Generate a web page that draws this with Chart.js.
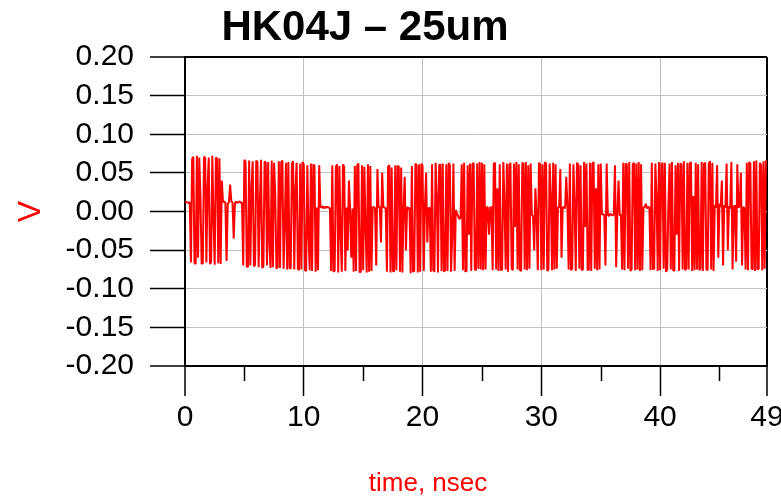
<!DOCTYPE html>
<html>
<head>
<meta charset="utf-8">
<script src="https://cdn.jsdelivr.net/npm/chart.js@4.4.0/dist/chart.umd.min.js"></script>
<style>
  html, body { margin: 0; padding: 0; background: #ffffff; }
  #wrap { width: 781px; height: 496px; }
</style>
</head>
<body>
<div id="wrap"><canvas id="c" width="781" height="496"></canvas></div>
<script>
// ---- data ----
const chartTitle = "HK04J \u2013 25um";
const xTitle = "time, nsec";
const yTitle = "V";
const xTickValues = [0, 10, 20, 30, 40, 49];
const xMinorTickValues = [5, 15, 25, 35, 45];
const yMin = -0.20, yMax = 0.20, yStep = 0.05;
const sampleStep = 0.1; // ns between samples
// voltage samples, one row per nanosecond (10 samples each)
const voltage = [
  0.012, 0.012, 0.012, 0.011, 0.012, -0.066, 0.068, 0.071, -0.067, -0.068,
  0.072, -0.060, 0.070, 0.020, -0.068, -0.067, 0.071, 0.069, -0.066, 0.030,
  0.070, -0.068, -0.065, 0.072, -0.010, -0.069, 0.070, 0.068, -0.067, 0.069,
  -0.068, 0.040, 0.012, 0.013, 0.011, -0.064, 0.010, 0.012, 0.035, 0.013,
  0.012, -0.035, 0.010, 0.013, 0.011, 0.012, 0.013, 0.011, 0.012, -0.070,
  0.067, 0.064, -0.071, -0.072, 0.066, -0.070, 0.030, 0.065, -0.071, -0.069,
  0.066, 0.064, -0.072, 0.010, 0.067, -0.073, -0.071, 0.065, 0.063, -0.070,
  0.064, -0.040, -0.073, 0.066, -0.072, 0.063, 0.020, -0.074, -0.072, 0.065,
  -0.073, 0.064, 0.066, -0.074, -0.020, 0.063, -0.075, 0.064, -0.073, -0.074,
  0.062, 0.065, -0.075, 0.030, 0.063, -0.074, -0.076, 0.062, -0.075, 0.064,
  0.061, -0.076, -0.077, 0.060, -0.030, -0.076, 0.062, -0.077, 0.061, 0.059,
  -0.078, 0.005, -0.076, 0.060, 0.006, 0.005, 0.007, 0.004, 0.006, 0.005,
  0.006, 0.005, 0.004, -0.077, 0.060, -0.078, -0.077, 0.058, 0.061, -0.079,
  0.059, -0.030, -0.078, 0.061, 0.058, -0.077, 0.005, -0.050, 0.040, 0.003,
  -0.060, 0.004, -0.078, 0.059, -0.077, 0.060, 0.062, -0.079, -0.078, 0.060,
  -0.076, 0.058, -0.020, -0.079, 0.061, -0.078, 0.059, -0.077, 0.005, 0.006,
  0.004, -0.070, 0.055, 0.005, 0.006, -0.040, 0.050, 0.006, 0.005, 0.004,
  -0.078, 0.058, 0.060, -0.079, 0.057, -0.077, -0.078, 0.060, -0.076, 0.059,
  0.058, -0.078, 0.057, -0.079, 0.004, 0.045, -0.050, 0.006, 0.003, 0.005,
  -0.080, 0.059, -0.078, -0.077, 0.062, 0.060, -0.079, 0.061, -0.078, 0.062,
  0.059, -0.077, 0.006, 0.050, -0.040, 0.004, 0.005, -0.078, 0.061, -0.076,
  -0.078, 0.063, 0.020, -0.079, 0.060, 0.061, -0.077, 0.062, -0.078, -0.076,
  0.061, -0.077, 0.063, 0.060, -0.078, -0.030, 0.062, -0.077, 0.002, -0.003,
  -0.006, -0.010, -0.008, 0.061, -0.076, 0.063, -0.078, -0.077, 0.060, -0.030,
  0.062, -0.077, 0.061, 0.063, -0.075, -0.076, 0.062, -0.074, 0.064, -0.075,
  0.063, -0.076, 0.061, -0.075, 0.006, 0.005, -0.030, 0.005, 0.006, -0.076,
  0.062, 0.063, -0.075, 0.030, -0.077, 0.061, -0.076, -0.075, 0.064, 0.010,
  -0.075, 0.062, -0.078, 0.060, 0.063, -0.074, -0.076, 0.062, -0.020, 0.064,
  -0.075, 0.061, -0.076, -0.077, 0.063, 0.062, -0.075, 0.064, -0.076, 0.060,
  -0.074, 0.062, -0.004, -0.006, -0.050, 0.030, -0.004, -0.076, 0.063, 0.061,
  -0.076, 0.061, -0.075, 0.064, 0.062, -0.077, -0.075, 0.062, 0.020, -0.076,
  0.063, -0.075, 0.061, -0.074, 0.005, 0.006, 0.055, -0.060, 0.005, 0.006,
  0.004, 0.045, 0.006, -0.075, 0.062, -0.076, -0.074, 0.061, 0.010, -0.077,
  0.063, 0.061, -0.074, 0.060, -0.076, -0.075, 0.064, -0.020, 0.062, -0.076,
  -0.075, 0.063, -0.077, 0.062, 0.064, -0.074, 0.030, -0.076, 0.061, -0.075,
  0.062, -0.004, -0.003, -0.005, -0.070, 0.062, -0.004, -0.006, -0.003, -0.004,
  -0.005, -0.004, 0.060, -0.072, -0.004, 0.040, -0.005, -0.004, -0.075, 0.063,
  -0.076, 0.062, 0.061, -0.074, 0.064, -0.077, -0.075, 0.061, 0.063, -0.076,
  0.062, -0.075, 0.064, -0.077, 0.061, -0.076, 0.005, 0.006, 0.010, 0.004,
  0.006, 0.005, -0.076, 0.063, -0.075, -0.074, 0.062, 0.020, -0.077, 0.064,
  -0.076, 0.061, 0.063, -0.074, 0.063, -0.078, -0.075, 0.010, 0.062, -0.075,
  0.064, -0.076, -0.077, 0.060, -0.030, 0.063, -0.077, 0.062, 0.061, -0.075,
  0.065, -0.076, -0.074, 0.063, -0.075, 0.062, 0.064, -0.077, 0.020, -0.076,
  0.063, -0.075, 0.061, -0.076, -0.074, 0.064, -0.077, 0.062, 0.063, -0.075,
  -0.076, 0.062, 0.065, -0.075, 0.063, -0.077, 0.008, 0.005, 0.060, -0.060,
  0.010, 0.006, 0.040, -0.070, 0.008, 0.005, 0.062, -0.050, 0.007, 0.004,
  0.064, -0.075, 0.006, 0.008, -0.065, 0.061, 0.005, 0.007, 0.050, -0.070,
  0.006, 0.004, -0.075, 0.063, -0.076, 0.064, 0.062, -0.074, -0.075, 0.065,
  -0.077, 0.066, -0.075, -0.074, 0.063, 0.060, -0.076, 0.065, -0.074, 0.066,
  0.060
];
const points = voltage.map((v, i) => ({ x: +(i * sampleStep).toFixed(1), y: v }));

const FONT = "'Liberation Sans', Arial, sans-serif";

const extraText = {
  id: 'extraText',
  afterDraw(chart) {
    const ctx = chart.ctx;
    const xs = chart.scales.x;
    ctx.save();
    // minor ticks on x axis
    ctx.strokeStyle = '#000000';
    ctx.lineWidth = 1.5;
    xMinorTickValues.forEach(v => {
      const px = Math.round(xs.getPixelForValue(v)) + 0.5;
      ctx.beginPath();
      ctx.moveTo(px, xs.top);
      ctx.lineTo(px, xs.top + 15);
      ctx.stroke();
    });
    // chart title
    ctx.fillStyle = '#000000';
    ctx.font = "bold 42px " + FONT;
    ctx.textAlign = 'center';
    ctx.textBaseline = 'middle';
    ctx.fillText(chartTitle, 365, 28);
    // x axis title
    ctx.fillStyle = '#ff0000';
    ctx.font = "26px " + FONT;
    ctx.fillText(xTitle, 428, 484);
    ctx.restore();
  }
};

new Chart(document.getElementById('c'), {
  type: 'line',
  data: {
    datasets: [{
      data: points,
      borderColor: '#ff0000',
      borderWidth: 2,
      borderJoinStyle: 'bevel',
      pointRadius: 0,
      tension: 0,
      fill: false
    }]
  },
  options: {
    responsive: false,
    animation: false,
    events: [],
    layout: { padding: { top: 57, right: 14, left: 0, bottom: 0 } },
    plugins: { legend: { display: false }, tooltip: { enabled: false }, title: { display: false } },
    scales: {
      x: {
        type: 'linear',
        min: 0, max: 49,
        afterBuildTicks: (s) => { s.ticks = xTickValues.map(v => ({ value: v })); },
        afterFit: (s) => { s.height = 130; s.paddingLeft = 0; s.paddingRight = 0; },
        ticks: {
          color: '#000000',
          font: { family: FONT, size: 30 },
          padding: 4,
          maxRotation: 0,
          autoSkip: false,
          callback: (v) => String(v)
        },
        grid: {
          color: (c) => (c.tick && (c.tick.value === 0 || c.tick.value === 49)) ? '#000000' : '#c0c0c0',
          lineWidth: (c) => (c.tick && (c.tick.value === 0 || c.tick.value === 49)) ? 2 : 1,
          tickColor: '#000000',
          tickLength: 30,
          tickWidth: 1.5
        },
        border: { display: true, color: '#000000', width: 2 },
        title: { display: false }
      },
      y: {
        type: 'linear',
        min: yMin, max: yMax,
        afterFit: (s) => { s.width = 185; },
        ticks: {
          stepSize: yStep,
          autoSkip: false,
          color: '#000000',
          font: { family: FONT, size: 30 },
          padding: 16,
          callback: (v) => (Math.abs(v) < 1e-9 ? 0 : v).toFixed(2)
        },
        grid: {
          color: (c) => (c.tick && (Math.abs(c.tick.value - yMax) < 1e-9 || Math.abs(c.tick.value - yMin) < 1e-9)) ? '#000000' : '#c0c0c0',
          lineWidth: (c) => (c.tick && (Math.abs(c.tick.value - yMax) < 1e-9 || Math.abs(c.tick.value - yMin) < 1e-9)) ? 2 : 1,
          tickColor: '#000000',
          tickLength: 35,
          tickWidth: 1.5
        },
        border: { display: true, color: '#000000', width: 2 },
        title: {
          display: true,
          text: yTitle,
          color: '#ff0000',
          font: { family: FONT, size: 32 },
          padding: { top: 12, bottom: 0 }
        }
      }
    }
  },
  plugins: [extraText]
});
</script>
</body>
</html>
